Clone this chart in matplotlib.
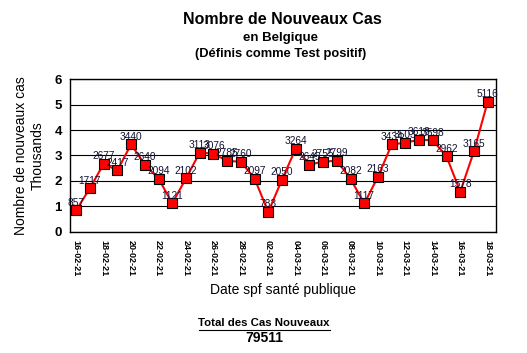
import matplotlib
matplotlib.use("Agg")
import matplotlib.pyplot as plt

dates = ["16-02-21","17-02-21","18-02-21","19-02-21","20-02-21","21-02-21","22-02-21",
         "23-02-21","24-02-21","25-02-21","26-02-21","27-02-21","28-02-21","01-03-21",
         "02-03-21","03-03-21","04-03-21","05-03-21","06-03-21","07-03-21","08-03-21",
         "09-03-21","10-03-21","11-03-21","12-03-21","13-03-21","14-03-21","15-03-21",
         "16-03-21","17-03-21","18-03-21"]
cases = [857,1717,2677,2417,3440,2640,2094,1121,2102,3113,3076,2785,2760,2097,
         783,2050,3264,2645,2755,2799,2082,1117,2163,3434,3503,3618,3598,2962,
         1578,3165,5116]
total = 79511

plt.rcParams['font.family'] = ['Liberation Sans', 'DejaVu Sans']
fig = plt.figure(figsize=(5.27, 3.53), dpi=100)
ax = fig.add_axes([0.133, 0.343, 0.808, 0.433])

x = list(range(len(cases)))
y = [c / 1000 for c in cases]
ax.plot(x, y, color='red', lw=1.5, marker='s', ms=6.5, mfc='red', mec='black', mew=0.8, zorder=3)
for xi, yi, c in zip(x, y, cases):
    ax.text(xi, yi + 0.1, str(c), ha='center', va='bottom', fontsize=7.3, color='#101030', zorder=4)

ax.set_xlim(-0.45, 30.6)
ax.set_ylim(0, 6)
ax.set_yticks(range(0, 7))
ax.set_yticklabels([str(v) for v in range(0, 7)], fontsize=9.5, fontweight='bold')
ax.yaxis.grid(True, color='black', lw=0.8)
ax.set_axisbelow(True)
ax.set_xticks(x[::2])
ax.set_xticklabels(dates[::2], rotation=-90, fontsize=6.5, fontweight='bold')
ax.tick_params(axis='both', length=0, pad=6)
for s in ax.spines.values():
    s.set_linewidth(1.0)

fig.text(0.535, 0.945, "Nombre de Nouveaux Cas", ha='center', va='center', fontsize=11.5, fontweight='bold')
fig.text(0.533, 0.893, "en Belgique", ha='center', va='center', fontsize=9.5, fontweight='bold')
fig.text(0.533, 0.848, "(Définis comme Test positif)", ha='center', va='center', fontsize=9.3, fontweight='bold')
fig.text(0.04, 0.56, "Nombre de nouveaux cas", rotation=90, ha='center', va='center', fontsize=10)
fig.text(0.072, 0.56, "Thousands", rotation=90, ha='center', va='center', fontsize=10)
fig.text(0.537, 0.178, "Date spf santé publique", ha='center', va='center', fontsize=10)
fig.text(0.501, 0.085, "Total des Cas Nouveaux", ha='center', va='center', fontsize=8.2, fontweight='bold')
fig.text(0.501, 0.042, str(total), ha='center', va='center', fontsize=10, fontweight='bold')
fig.add_artist(plt.Line2D([0.377, 0.626], [0.065, 0.065], color='black', lw=0.8, transform=fig.transFigure))

fig.savefig("out.png", dpi=100, facecolor='white')
